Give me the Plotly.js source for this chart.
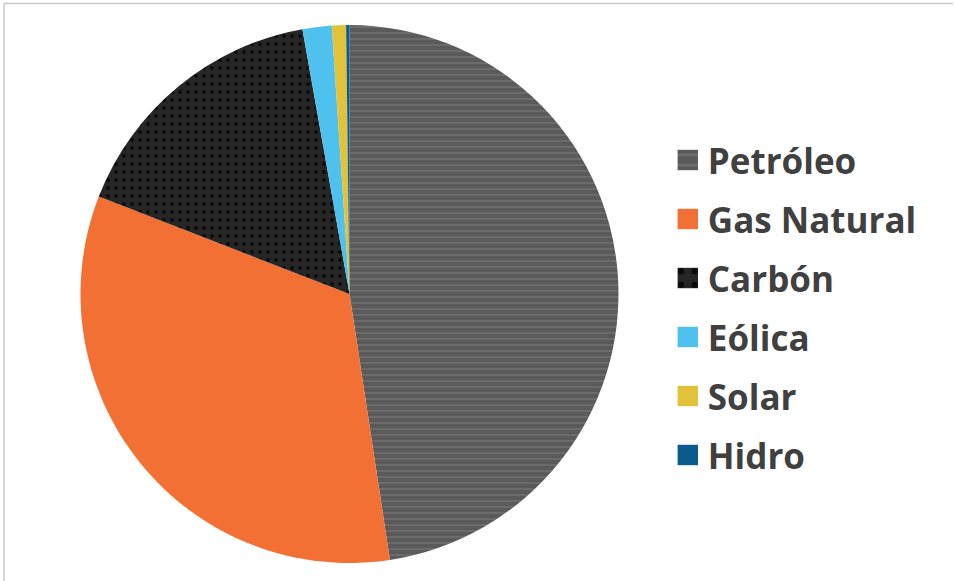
<!DOCTYPE html>
<html>
<head>
<meta charset="utf-8">
<script src="https://cdn.plot.ly/plotly-3.0.1.min.js"></script>
<style>html,body{margin:0;padding:0;background:#fff;}#chart{width:954px;height:581px;}</style>
</head>
<body>
<div id="chart"></div>
<script>
const labels = ["Petróleo", "Gas Natural", "Carbón", "Eólica", "Solar", "Hidro"];
const values = [47.6, 33.3, 16.3, 1.75, 0.85, 0.2];
const colors = ["#5a5a5a", "#F37035", "#262626", "#4FC1EE", "#E2C23B", "#0B5A8C"];
const patternShapes = ["-", "", ".", "", "", ""];
const patternFg = ["#707070", "#F37035", "#0a0a0a", "#4FC1EE", "#E2C23B", "#0B5A8C"];

const trace = {
  type: "pie",
  labels: labels,
  values: values,
  sort: false,
  direction: "clockwise",
  rotation: 0,
  textinfo: "none",
  hoverinfo: "label+percent",
  marker: {
    colors: colors,
    line: {width: 0},
    pattern: {
      shape: patternShapes,
      fgcolor: patternFg,
      bgcolor: colors,
      size: [6, 8, 8, 8, 8, 8],
      solidity: [0.25, 0.2, 0.18, 0.2, 0.2, 0.2]
    }
  },
  domain: {x: [80.5/954, 618.5/954], y: [18/581, 556/581]}
};

const layout = {
  width: 954, height: 581,
  margin: {l: 0, r: 0, t: 0, b: 0},
  paper_bgcolor: "#ffffff",
  plot_bgcolor: "#ffffff",
  showlegend: true,
  legend: {
    x: 0.700, xanchor: "left",
    y: 0.5, yanchor: "middle",
    font: {family: "Open Sans, sans-serif", size: 35, color: "#404040", weight: 700},
    bgcolor: "rgba(0,0,0,0)",
    itemclick: false
  },
  shapes: [
    {type: "line", xref: "paper", yref: "paper", x0: 4/954, x1: 953/954, y0: 1 - 3.5/581, y1: 1 - 3.5/581, line: {color: "#c8c8c8", width: 1.5}},
    {type: "line", xref: "paper", yref: "paper", x0: 4/954, x1: 4/954, y0: 0, y1: 1 - 3.5/581, line: {color: "#c8c8c8", width: 1.5}}
  ]
};

function parseT(el) {
  const t = el ? (el.getAttribute("transform") || "") : "";
  const m = t.match(/translate\(\s*([-\d.eE]+)[\s,]*([-\d.eE]+)?\s*\)/);
  return m ? [parseFloat(m[1]), parseFloat(m[2] || 0)] : [0, 0];
}

Plotly.newPlot("chart", [trace], layout, {displayModeBar: false}).then(function(gd) {
  const legendG = gd.querySelector(".legend");
  const scroll = gd.querySelector(".legend .scrollbox");
  if (scroll) scroll.removeAttribute("clip-path");
  legendG.removeAttribute("clip-path");
  const baseY = parseT(legendG)[1];
  const sy = parseT(scroll)[1];
  const items = gd.querySelectorAll(".legend .traces");
  const spacing = 59;
  const firstY = 160;
  items.forEach(function(it, i) {
    const x = parseT(it)[0];
    const y = firstY + i * spacing - baseY - sy;
    it.setAttribute("transform", "translate(" + x + "," + y + ")");
    it.querySelectorAll(".legendpoints path").forEach(function(p) {
      p.setAttribute("transform", "translate(20,0) scale(1.7)");
    });
  });
});
</script>
</body>
</html>
